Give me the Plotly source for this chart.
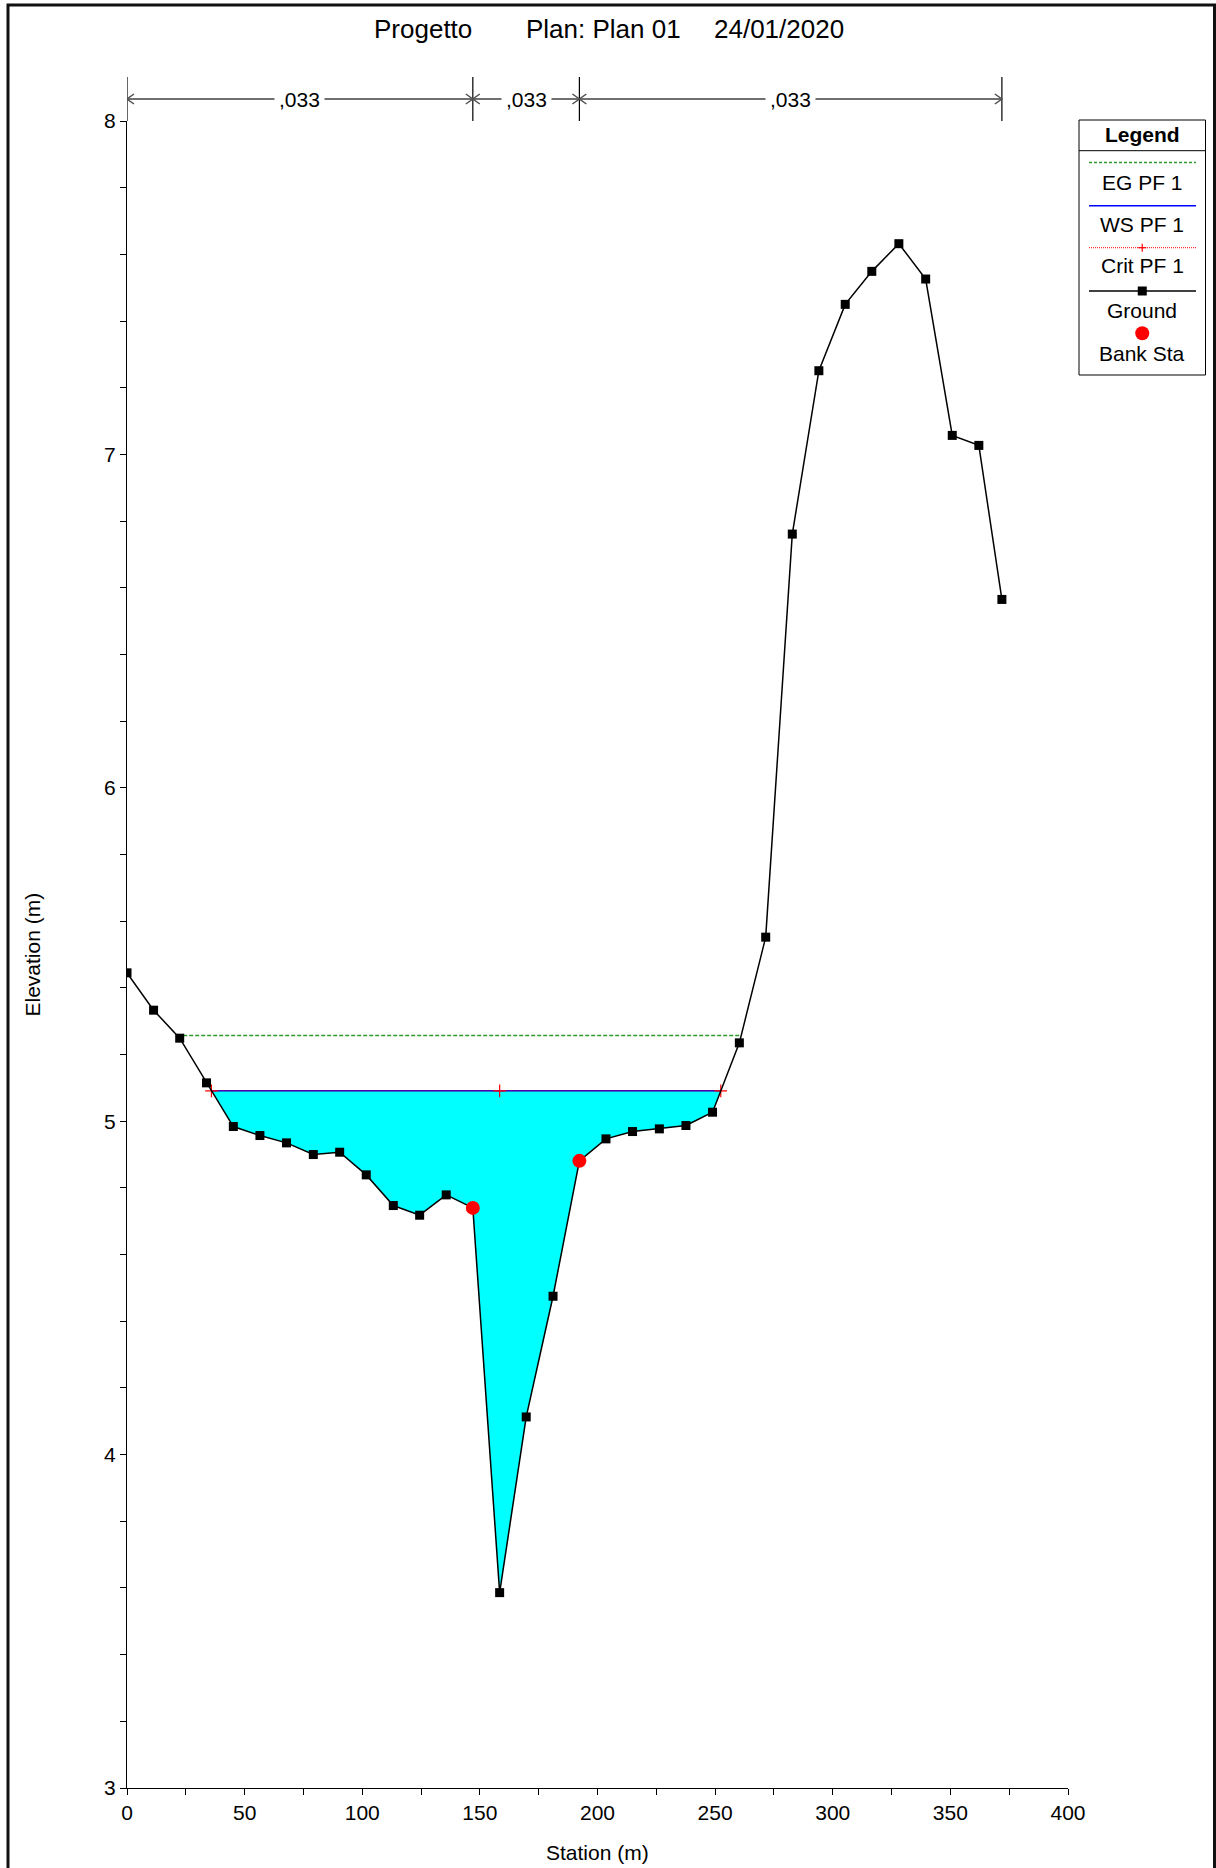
"""HEC-RAS style cross section: Progetto, Plan 01."""
import numpy as np
import plotly.graph_objects as go

# ---- data -------------------------------------------------------------
STATION = [0, 11.3, 22.4, 33.8, 45.2, 56.5, 67.8, 79.2, 90.4, 101.7, 113.2,
           124.4, 135.7, 147.0, 158.4, 169.7, 181.1, 192.3, 203.6, 214.9,
           226.3, 237.6, 248.9, 260.3, 271.5, 282.8, 294.1, 305.3, 316.6,
           328.1, 339.5, 350.8, 362.1, 371.9]
GROUND = [5.445, 5.333, 5.249, 5.115, 4.984, 4.957, 4.935, 4.900, 4.907,
          4.839, 4.747, 4.718, 4.779, 4.740, 3.586, 4.113, 4.475, 4.881,
          4.947, 4.969, 4.977, 4.987, 5.027, 5.235, 5.552, 6.761, 7.251,
          7.450, 7.549, 7.632, 7.526, 7.057, 7.027, 6.565]
BANK_STA = [147.0, 192.3]
EG_ELEV = 5.257
WS_ELEV = 5.091
CRIT_ELEV = 5.091
MANNING_N = [",033", ",033", ",033"]

TITLE_PARTS = ["Progetto", "Plan: Plan 01", "24/01/2020"]
X_TICKS = list(range(0, 401, 50))
Y_TICKS = [3, 4, 5, 6, 7, 8]

# ---- page geometry ----------------------------------------------------
W, H = 1216, 1868
L, R, T, B = 127, 148, 121, 80
PW, PH = W - L - R, H - T - B
FONT = "'Liberation Sans', Arial, sans-serif"


def px(x):
    return (x - L) / PW


def py(y):
    return (H - B - y) / PH


def crossings(st, z, level):
    """Left/right stations where the ground crosses a level around the thalweg."""
    st, z = np.asarray(st, float), np.asarray(z, float)
    i0 = int(np.argmin(z))
    left = right = None
    for i in range(i0, 0, -1):
        if z[i - 1] >= level >= z[i]:
            left = st[i - 1] + (z[i - 1] - level) / (z[i - 1] - z[i]) * (st[i] - st[i - 1])
            break
    for i in range(i0, len(st) - 1):
        if z[i + 1] >= level >= z[i]:
            right = st[i] + (level - z[i]) / (z[i + 1] - z[i]) * (st[i + 1] - st[i])
            break
    return left, right


st = np.array(STATION)
gz = np.array(GROUND)
ws_l, ws_r = crossings(st, gz, WS_ELEV)
eg_l, eg_r = crossings(st, gz, EG_ELEV)
cr_l, cr_r = crossings(st, gz, CRIT_ELEV)
thalweg = st[np.argmin(gz)]

inside = (st > ws_l) & (st < ws_r)
water_x = [ws_l] + list(st[inside]) + [ws_r, ws_l]
water_y = [WS_ELEV] + list(gz[inside]) + [WS_ELEV, WS_ELEV]

bank_y = np.interp(BANK_STA, st, gz)

fig = go.Figure()
fig.add_trace(go.Scatter(x=water_x, y=water_y, mode="lines", fill="toself",
                         fillcolor="#00FFFF", line=dict(width=0),
                         hoverinfo="skip", showlegend=False))
fig.add_trace(go.Scatter(x=[eg_l, eg_r], y=[EG_ELEV, EG_ELEV], mode="lines",
                         line=dict(color="#2E9A2E", width=1.5, dash="4px,2px"),
                         name="EG PF 1", showlegend=False))
fig.add_trace(go.Scatter(x=[ws_l, ws_r], y=[WS_ELEV, WS_ELEV], mode="lines",
                         line=dict(color="#0000FF", width=1.5),
                         name="WS PF 1", showlegend=False))
fig.add_trace(go.Scatter(x=[cr_l, thalweg, cr_r], y=[CRIT_ELEV] * 3,
                         mode="lines+markers",
                         line=dict(color="#FF0000", width=1, dash="1px,1px"),
                         marker=dict(symbol="cross-thin", size=9,
                                     line=dict(color="#FF0000", width=1.2)),
                         name="Crit PF 1", showlegend=False))
fig.add_trace(go.Scatter(x=STATION, y=GROUND, mode="lines+markers",
                         line=dict(color="black", width=1.5),
                         marker=dict(symbol="square", size=9, color="black"),
                         name="Ground", showlegend=False))
fig.add_trace(go.Scatter(x=BANK_STA, y=bank_y, mode="markers",
                         marker=dict(symbol="circle", size=14, color="#FF0000"),
                         name="Bank Sta", showlegend=False))

shapes, annos = [], []

# page frame
shapes.append(dict(type="rect", xref="paper", yref="paper",
                   x0=px(8), x1=px(1214.5), y0=py(1900), y1=py(5),
                   line=dict(color="#111111", width=3)))

# title
for txt, cx in zip(TITLE_PARTS, [423, 603, 779]):
    annos.append(dict(text=txt, xref="paper", yref="paper", x=px(cx), y=py(29),
                      showarrow=False, xanchor="center", yanchor="middle",
                      font=dict(size=26, color="black")))

# manning's n brackets above the plot
m_bounds = [STATION[0], BANK_STA[0], BANK_STA[1], STATION[-1]]
m_y = py(99)
dx = 7 / PW * 400
dy = 5 / PH
for xb in m_bounds:
    shapes.append(dict(type="line", xref="x", yref="paper", x0=xb, x1=xb,
                       y0=py(121), y1=py(77), line=dict(color="black", width=1.2)))
for (xa, xb), lab in zip(zip(m_bounds[:-1], m_bounds[1:]), MANNING_N):
    shapes.append(dict(type="line", xref="x", yref="paper", x0=xa, x1=xb,
                       y0=m_y, y1=m_y, line=dict(color="#707070", width=2)))
    for tip, sgn in ((xa, 1), (xb, -1)):
        shapes.append(dict(type="path", xref="x", yref="paper",
                           path=f"M {tip + sgn * dx} {m_y + dy} L {tip} {m_y} L {tip + sgn * dx} {m_y - dy}",
                           line=dict(color="#505050", width=1.5)))
    annos.append(dict(text=lab, xref="x", yref="paper", x=(xa + xb) / 2, y=m_y,
                      showarrow=False, xanchor="center", yanchor="middle",
                      bgcolor="white", borderpad=4,
                      font=dict(size=21, color="black")))

# axis titles
annos.append(dict(text="Station (m)", xref="paper", yref="paper", x=0.5, y=py(1853),
                  showarrow=False, xanchor="center", yanchor="middle",
                  font=dict(size=21, color="black")))
annos.append(dict(text="Elevation (m)", xref="paper", yref="paper", x=px(32), y=0.5,
                  showarrow=False, xanchor="center", yanchor="middle", textangle=-90,
                  font=dict(size=21, color="black")))

# legend box
lx0, lx1, ly0, ly1 = 1079, 1205.5, 120, 375
shapes.append(dict(type="rect", xref="paper", yref="paper", x0=px(lx0), x1=px(lx1),
                   y0=py(ly1), y1=py(ly0), line=dict(color="black", width=1),
                   fillcolor="white"))
shapes.append(dict(type="line", xref="paper", yref="paper", x0=px(lx0), x1=px(lx1),
                   y0=py(150.7), y1=py(150.7), line=dict(color="black", width=1)))
lcx = (lx0 + lx1) / 2
annos.append(dict(text="<b>Legend</b>", xref="paper", yref="paper", x=px(lcx), y=py(134),
                  showarrow=False, xanchor="center", yanchor="middle",
                  font=dict(size=21, color="black")))
sx0, sx1 = 1089, 1196
# EG
shapes.append(dict(type="line", xref="paper", yref="paper", x0=px(sx0), x1=px(sx1),
                   y0=py(162.5), y1=py(162.5),
                   line=dict(color="#2E9A2E", width=1.5, dash="3px,2px")))
# WS
shapes.append(dict(type="line", xref="paper", yref="paper", x0=px(sx0), x1=px(sx1),
                   y0=py(205.7), y1=py(205.7), line=dict(color="#0000FF", width=1.5)))
# Crit
shapes.append(dict(type="line", xref="paper", yref="paper", x0=px(sx0), x1=px(sx1),
                   y0=py(247.7), y1=py(247.7),
                   line=dict(color="#FF0000", width=1, dash="1px,1px")))
shapes.append(dict(type="line", xref="paper", yref="paper", x0=px(lcx - 4), x1=px(lcx + 4),
                   y0=py(247.7), y1=py(247.7), line=dict(color="#FF0000", width=1.2)))
shapes.append(dict(type="line", xref="paper", yref="paper", x0=px(lcx), x1=px(lcx),
                   y0=py(243.7), y1=py(251.7), line=dict(color="#FF0000", width=1.2)))
# Ground
shapes.append(dict(type="line", xref="paper", yref="paper", x0=px(sx0), x1=px(sx1),
                   y0=py(291), y1=py(291), line=dict(color="black", width=1.5)))
shapes.append(dict(type="rect", xref="paper", yref="paper", x0=px(lcx - 4.5), x1=px(lcx + 4.5),
                   y0=py(295.5), y1=py(286.5), line=dict(width=0), fillcolor="black"))
# Bank Sta
shapes.append(dict(type="circle", xref="paper", yref="paper", x0=px(lcx - 7), x1=px(lcx + 7),
                   y0=py(340.3), y1=py(326.3), line=dict(width=0), fillcolor="#FF0000"))
for txt, yy in [("EG PF 1", 182), ("WS PF 1", 224), ("Crit PF 1", 265.5),
                ("Ground", 310), ("Bank Sta", 353)]:
    annos.append(dict(text=txt, xref="paper", yref="paper", x=px(lcx), y=py(yy),
                      showarrow=False, xanchor="center", yanchor="middle",
                      font=dict(size=21, color="black")))

fig.update_layout(
    width=W, height=H, autosize=False,
    margin=dict(l=L, r=R, t=T, b=B),
    paper_bgcolor="white", plot_bgcolor="white",
    font=dict(family=FONT, color="black"),
    shapes=shapes, annotations=annos, showlegend=False,
)
fig.update_xaxes(range=[0, 400], tickvals=X_TICKS, ticks="outside", ticklen=6,
                 tickcolor="black", showline=True, linecolor="black", linewidth=1,
                 showgrid=False, zeroline=False, tickfont=dict(size=21),
                 minor=dict(dtick=25, ticks="outside", ticklen=6, tickcolor="black"))
fig.update_yaxes(range=[3, 8], tickvals=Y_TICKS, ticks="outside", ticklen=6,
                 tickcolor="black", showline=True, linecolor="black", linewidth=1,
                 showgrid=False, zeroline=False, tickfont=dict(size=21),
                 minor=dict(dtick=0.2, ticks="outside", ticklen=6, tickcolor="black"))

fig.write_html("out.html", config={"displayModeBar": False},
               post_script="document.body.style.margin='0';document.body.style.overflow='hidden';")
